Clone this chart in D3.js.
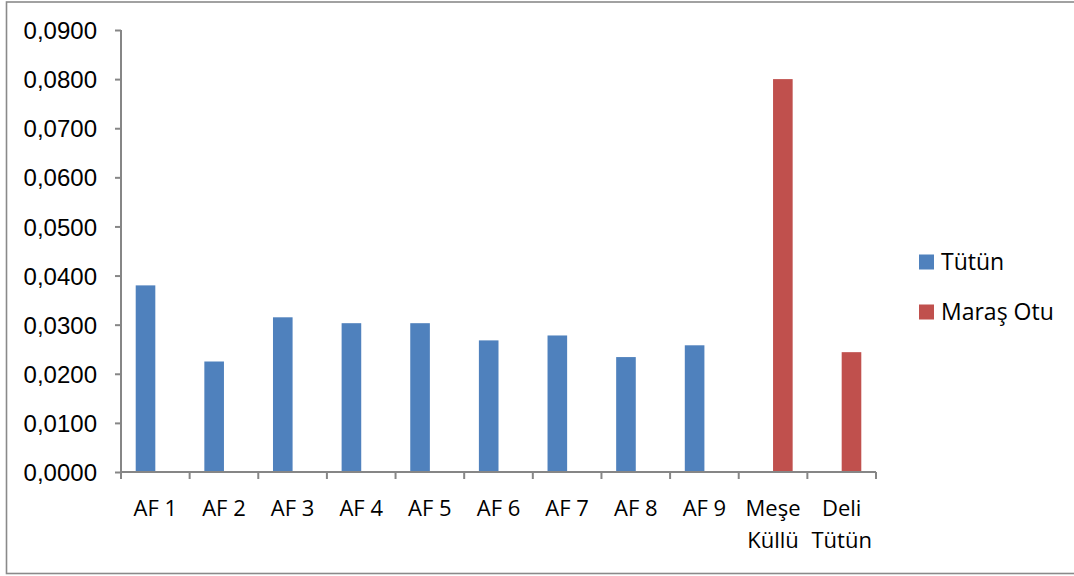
<!DOCTYPE html>
<html>
<head>
<meta charset="utf-8">
<script src="https://cdn.jsdelivr.net/npm/d3@7/dist/d3.min.js"></script>
<style>
  html, body { margin: 0; padding: 0; background: #fff; }
  svg { display: block; font-family: "Open Sans", "Noto Sans", sans-serif; }
</style>
</head>
<body>
<svg id="chart" width="1074" height="576"></svg>
<script>
// Categories along the x axis
const categories = ["AF 1", "AF 2", "AF 3", "AF 4", "AF 5", "AF 6", "AF 7", "AF 8", "AF 9", "Meşe Küllü", "Deli Tütün"];

// Series names
const seriesNames = ["Tütün", "Maraş Otu"];

// Values per category (null where the series has no value)
const tutunValues = [0.0380, 0.0225, 0.0315, 0.0303, 0.0303, 0.0268, 0.0278, 0.0234, 0.0258, null, null];
const marasOtuValues = [null, null, null, null, null, null, null, null, null, 0.0800, 0.0244];

// Y axis ticks
const yTicks = [0, 0.01, 0.02, 0.03, 0.04, 0.05, 0.06, 0.07, 0.08, 0.09];

const colors = ["#4F81BD", "#C0504D"];

const svg = d3.select("#chart");

// Outer chart frame
svg.append("rect")
  .attr("x", 6.5).attr("y", 2).attr("width", 1075).attr("height", 571.5)
  .attr("fill", "#fff").attr("stroke", "#8a8a8a").attr("stroke-width", 1.6);

const plot = { left: 121, right: 876, top: 30, bottom: 472 };

const x = d3.scaleBand().domain(categories).range([plot.left, plot.right]).paddingInner(0).paddingOuter(0);
const y = d3.scaleLinear().domain([0, 0.09]).range([plot.bottom, plot.top]);

// Two bars per category with a 150% gap between clusters
const barW = x.bandwidth() / 3.5;
const barOffset = s => 0.75 * barW + seriesNames.indexOf(s) * barW;

const rows = categories.map((c, i) => ({ cat: c, values: [tutunValues[i], marasOtuValues[i]] }));

// Bars
const groups = svg.append("g").selectAll("g").data(rows).join("g")
  .attr("transform", d => `translate(${x(d.cat)},0)`);
groups.selectAll("rect")
  .data(d => d.values.map((v, k) => ({ v, s: seriesNames[k], k })).filter(e => e.v != null))
  .join("rect")
  .attr("x", e => barOffset(e.s))
  .attr("width", barW)
  .attr("y", e => y(e.v))
  .attr("height", e => y(0) - y(e.v))
  .attr("fill", e => colors[e.k]);

// Y axis
const yAxis = svg.append("g").attr("transform", `translate(${plot.left},0)`)
  .call(d3.axisLeft(y).tickValues(yTicks).tickSize(6).tickPadding(18)
    .tickFormat(d => d3.format(".4f")(d).replace(".", ",")));
yAxis.select(".domain").attr("stroke", "#868686").attr("stroke-width", 2).attr("d", `M0,${plot.top}V${plot.bottom}`);
yAxis.selectAll(".tick line").attr("stroke", "#868686").attr("stroke-width", 2);
yAxis.selectAll(".tick text").attr("fill", "#000").style("font-size", "24px").attr("dy", "0.36em");

// X axis with boundary ticks between categories
const xAxis = svg.append("g").attr("transform", `translate(0,${plot.bottom})`);
xAxis.append("path").attr("d", `M${plot.left},0H${plot.right}`).attr("stroke", "#868686").attr("stroke-width", 2).attr("fill", "none");
const bounds = categories.map(c => x(c)).concat([plot.right]);
xAxis.selectAll("line.bt").data(bounds).join("line")
  .attr("x1", d => d).attr("x2", d => d).attr("y1", 0).attr("y2", 7)
  .attr("stroke", "#868686").attr("stroke-width", 2);

const labels = xAxis.selectAll("text.cat").data(categories).join("text")
  .attr("class", "cat")
  .attr("x", d => x(d) + x.bandwidth() / 2)
  .attr("y", 44)
  .attr("text-anchor", "middle")
  .attr("fill", "#000")
  .style("font-size", "22px");

// Wrap labels that are wider than their category band
labels.each(function(d) {
  const t = d3.select(this);
  t.text(d);
  if (this.getComputedTextLength() > x.bandwidth() - 4) {
    t.text(null);
    d.split(" ").forEach((w, i) => {
      t.append("tspan").attr("x", x(d) + x.bandwidth() / 2).attr("dy", i === 0 ? 0 : 31.7).text(w);
    });
  }
});

// Legend
const legend = svg.append("g");
const legendY = [262, 312];
seriesNames.forEach((s, i) => {
  legend.append("rect").attr("x", 919).attr("y", legendY[i] - 7.5).attr("width", 15).attr("height", 15).attr("fill", colors[i]);
  legend.append("text").attr("x", 941).attr("y", legendY[i]).attr("dy", "0.36em")
    .attr("fill", "#000").style("font-size", "23px").text(s);
});
</script>
</body>
</html>
